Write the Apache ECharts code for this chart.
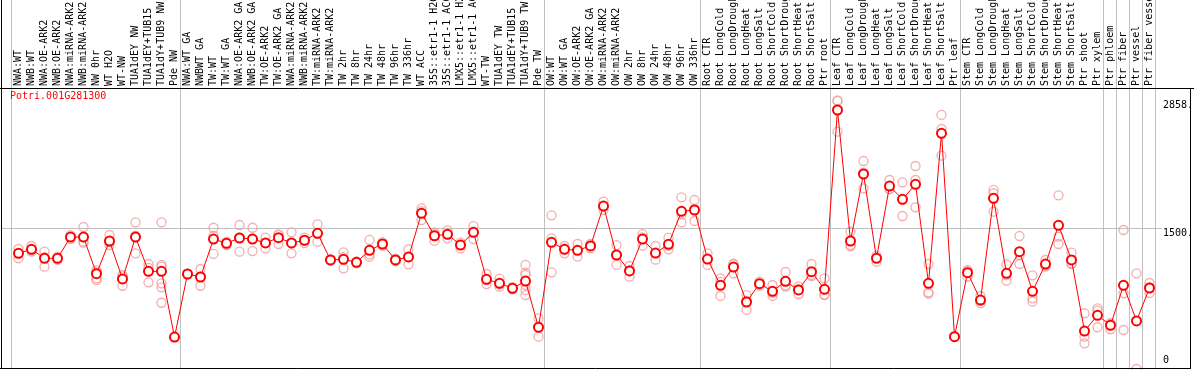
<!DOCTYPE html>
<html>
<head>
<meta charset="utf-8">
<script src="https://cdn.jsdelivr.net/npm/echarts@6/dist/echarts.min.js"></script>
<style>
  html, body { margin: 0; padding: 0; background: #fff; }
  #chart { width: 1194px; height: 370px; }
</style>
</head>
<body>
<div id="chart"></div>
<script>
// sample names, left to right
const categories = [
  'NWA:WT', 'NWB:WT', 'NWA:OE-ARK2', 'NWB:OE-ARK2', 'NWA:miRNA-ARK2', 'NWB:miRNA-ARK2',
  'NW 0hr', 'WT H2O', 'WT-NW', 'TUA1dEY NW', 'TUA1dEY+TUB15', 'TUA1dY+TUB9 NW', 'Pde NW',
  'NWA:WT GA', 'NWBWT GA', 'TW:WT', 'TW:WT GA', 'NWA:OE-ARK2 GA', 'NWB:OE-ARK2 GA',
  'TW:OE-ARK2', 'TW:OE-ARK2 GA', 'NWA:miRNA-ARK2 GA', 'NWB:miRNA-ARK2', 'TW:miRNA-ARK2',
  'TW:miRNA-ARK2', 'TW 2hr', 'TW 8hr', 'TW 24hr', 'TW 48hr', 'TW 96hr', 'TW 336hr', 'WT ACC',
  '35S::etr1-1 H2O', '35S::etr1-1 ACC', 'LMX5::etr1-1 H2O', 'LMX5::etr1-1 ACC', 'WT-TW',
  'TUA1dEY TW', 'TUA1dEY+TUB15', 'TUA1dY+TUB9 TW', 'Pde TW',
  'OW:WT', 'OW:WT GA', 'OW:OE-ARK2', 'OW:OE-ARK2 GA', 'OW:miRNA-ARK2', 'OW:miRNA-ARK2',
  'OW 2hr', 'OW 8hr', 'OW 24hr', 'OW 48hr', 'OW 96hr', 'OW 336hr',
  'Root CTR', 'Root LongCold', 'Root LongDrought', 'Root LongHeat', 'Root LongSalt',
  'Root ShortCold', 'Root ShortDrought', 'Root ShortHeat', 'Root ShortSalt', 'Ptr root',
  'Leaf CTR', 'Leaf LongCold', 'Leaf LongDrought', 'Leaf LongHeat', 'Leaf LongSalt',
  'Leaf ShortCold', 'Leaf ShortDrought', 'Leaf ShortHeat', 'Leaf ShortSalt', 'Ptr leaf',
  'Stem CTR', 'Stem LongCold', 'Stem LongDrought', 'Stem LongHeat', 'Stem LongSalt',
  'Stem ShortCold', 'Stem ShortDrought', 'Stem ShortHeat', 'Stem ShortSalt',
  'Ptr shoot', 'Ptr xylem', 'Ptr phloem', 'Ptr fiber', 'Ptr vessel', 'Ptr fiber vessel'
];

// mean expression per sample
const means = [
  1231, 1274, 1178, 1178, 1404, 1404, 1014, 1362, 958, 1404, 1039, 1039, 340,
  1011, 979, 1383, 1337, 1394, 1383, 1341, 1397, 1341, 1369, 1444, 1160, 1167, 1135,
  1263, 1330, 1160, 1192, 1657, 1418, 1433, 1319, 1454, 954, 912, 859, 936, 444,
  1348, 1274, 1263, 1309, 1734, 1213, 1043, 1383, 1234, 1327, 1678, 1692,
  1170, 890, 1085, 713, 908, 827, 933, 841, 1035, 848,
  2756, 1362, 2075, 1178, 1947, 1806, 1965, 912, 2508, 344,
  1025, 734, 1816, 1018, 1248, 827, 1117, 1529, 1160, 404, 571, 465, 890, 511, 862
];

// individual replicates per sample
const replicates = [
  [1277, 1231, 1178], [1309, 1266, 1248], [1248, 1190, 1089], [1195, 1178, 1160],
  [1425, 1404, 1383], [1511, 1355, 1344], [1053, 1030, 965, 945], [1426, 1350, 1319],
  [1000, 986, 886], [1561, 1420, 1231], [1117, 1075, 922], [1561, 1107, 1089, 912, 869, 705],
  [340, 340],
  [1011, 1011], [1064, 986, 886], [1503, 1418, 1224], [1355, 1337, 1319], [1532, 1400, 1248],
  [1503, 1390, 1255], [1397, 1341, 1284], [1433, 1425, 1330], [1454, 1340, 1231],
  [1397, 1369, 1340], [1539, 1440, 1355], [1170, 1160, 1150], [1241, 1190, 1071],
  [1145, 1135, 1125], [1373, 1220, 1195], [1350, 1330, 1310], [1175, 1160, 1145],
  [1274, 1190, 1114], [1710, 1680, 1585], [1454, 1435, 1365], [1475, 1433, 1390],
  [1348, 1325, 1284], [1521, 1460, 1383], [1011, 947, 904], [961, 900, 876], [870, 859, 848],
  [1107, 1025, 1000, 894, 841, 787], [539, 450, 344],
  [1635, 1390, 1029], [1309, 1280, 1231], [1330, 1265, 1195], [1330, 1312, 1284],
  [1780, 1730, 1692], [1319, 1213, 1107], [1096, 1050, 982], [1436, 1400, 1312],
  [1309, 1230, 1163], [1397, 1310, 1274], [1827, 1645, 1561], [1798, 1700, 1575],
  [1231, 1170, 1107], [965, 928, 777], [1114, 1120, 1018], [787, 725, 628], [929, 908, 887],
  [894, 810, 777], [1032, 890, 876], [876, 850, 798], [1117, 988, 1000], [965, 792, 787],
  [2858, 2850, 2525], [1461, 1306, 1319], [2213, 2090, 1923], [1206, 1186, 1142],
  [2011, 1915, 1915], [1986, 1806, 1628], [2160, 2011, 1720], [1117, 803, 816],
  [2703, 2554, 2270], [344, 344],
  [1053, 1040, 982], [777, 726, 699], [1905, 1870, 1674], [1114, 1000, 940], [1415, 1212, 1117],
  [997, 752, 716], [1160, 1102, 1089], [1848, 1408, 1330], [1238, 1125, 1117],
  [593, 344, 273], [646, 622, 444], [486, 486, 422], [1479, 805, 415], [1018, 0], [915, 870, 809]
];

// group boundaries (between sample indexes) and the y label values
const groupBreaks = [-0.5, 12.5, 40.5, 52.5, 62.5, 72.5, 83.5, 84.5, 85.5, 86.5, 87.5];
const gridValues = [1500];
const yLabelsTop = [1500, 2858];
const yLabelsBottom = [0];
const geneName = 'Potri.001G281300';

const chart = echarts.init(document.getElementById('chart'));

const mono = 'DejaVu Sans Mono';
const meanData = means.map((v, i) => [i, v]);
const repData = [];
replicates.forEach((reps, i) => reps.forEach(v => repData.push([i, v])));

const option = {
  animation: false,
  backgroundColor: '#fff',
  title: {
    text: geneName,
    left: 10,
    top: 91,
    padding: 0,
    textStyle: { color: '#ff0000', fontSize: 10, fontWeight: 'normal', fontFamily: mono }
  },
  grid: { left: 12, right: 38, top: 88, bottom: 1, outerBoundsMode: 'none', containLabel: false },
  xAxis: [
    {
      type: 'category',
      position: 'top',
      data: categories,
      boundaryGap: true,
      axisLine: { show: false },
      axisTick: { show: false },
      splitLine: { show: false },
      axisLabel: {
        interval: 0,
        rotate: 90,
        margin: 2,
        hideOverlap: false,
        fontSize: 10,
        fontFamily: mono,
        color: '#000'
      }
    },
    {
      type: 'value',
      min: -0.5,
      max: categories.length - 0.5,
      show: false
    }
  ],
  yAxis: [
    {
      type: 'value', min: 0, max: 2990, position: 'right',
      axisLine: { show: false }, axisTick: { show: false }, splitLine: { show: false },
      axisLabel: {
        customValues: yLabelsTop,
        formatter: v => v + '.',
        verticalAlign: 'top',
        margin: 7,
        fontSize: 10,
        fontFamily: mono,
        color: '#000'
      }
    },
    {
      type: 'value', min: 0, max: 2990, position: 'right',
      axisLine: { show: false }, axisTick: { show: false }, splitLine: { show: false },
      axisLabel: {
        customValues: yLabelsBottom,
        verticalAlign: 'bottom',
        padding: [0, 0, 4, 0],
        margin: 7,
        fontSize: 10,
        fontFamily: mono,
        color: '#000'
      }
    }
  ],
  graphic: [
    { type: 'line', shape: { x1: 0, y1: 88.5, x2: 1194, y2: 88.5 }, style: { stroke: '#000', lineWidth: 1 }, z: 10 },
    { type: 'line', shape: { x1: 1.5, y1: 0, x2: 1.5, y2: 369 }, style: { stroke: '#000', lineWidth: 1 }, z: 10 },
    { type: 'line', shape: { x1: 0, y1: 368.5, x2: 1191, y2: 368.5 }, style: { stroke: '#000', lineWidth: 1 }, z: 10 },
    { type: 'line', shape: { x1: 1190.5, y1: 88, x2: 1190.5, y2: 369 }, style: { stroke: '#000', lineWidth: 1 }, z: 10 }
  ],
  series: [
    {
      // vertical group separators, running up through the label band
      type: 'custom',
      xAxisIndex: 1,
      yAxisIndex: 0,
      silent: true,
      z: 0,
      data: groupBreaks.map(v => [v, 0]),
      renderItem(params, api) {
        const x = Math.round(api.coord([api.value(0), 0])[0]) - 0.5;
        return {
          type: 'line',
          shape: { x1: x, y1: 0, x2: x, y2: 369 },
          style: { stroke: '#c0c0c0', lineWidth: 1 }
        };
      }
    },
    {
      // horizontal gridline
      type: 'custom',
      xAxisIndex: 1,
      yAxisIndex: 0,
      silent: true,
      z: 0,
      data: gridValues.map(v => [0, v]),
      renderItem(params, api) {
        const y = Math.round(api.coord([0, api.value(1)])[1]) + 0.5;
        return {
          type: 'line',
          shape: { x1: 1, y1: y, x2: 1162, y2: y },
          style: { stroke: '#c0c0c0', lineWidth: 1 }
        };
      }
    },
    {
      name: 'replicates',
      type: 'scatter',
      xAxisIndex: 1,
      yAxisIndex: 0,
      z: 2,
      symbol: 'circle',
      symbolSize: 9,
      itemStyle: { color: 'rgba(0,0,0,0)', borderColor: '#f09a9a', borderWidth: 1.3 },
      data: repData
    },
    {
      name: 'mean',
      type: 'line',
      xAxisIndex: 1,
      yAxisIndex: 0,
      z: 3,
      symbol: 'emptyCircle',
      symbolSize: 9,
      showAllSymbol: true,
      lineStyle: { color: '#ff0000', width: 1 },
      itemStyle: { color: '#ff0000', borderColor: '#ff0000', borderWidth: 1.6 },
      data: meanData
    }
  ]
};

chart.setOption(option);
</script>
</body>
</html>
